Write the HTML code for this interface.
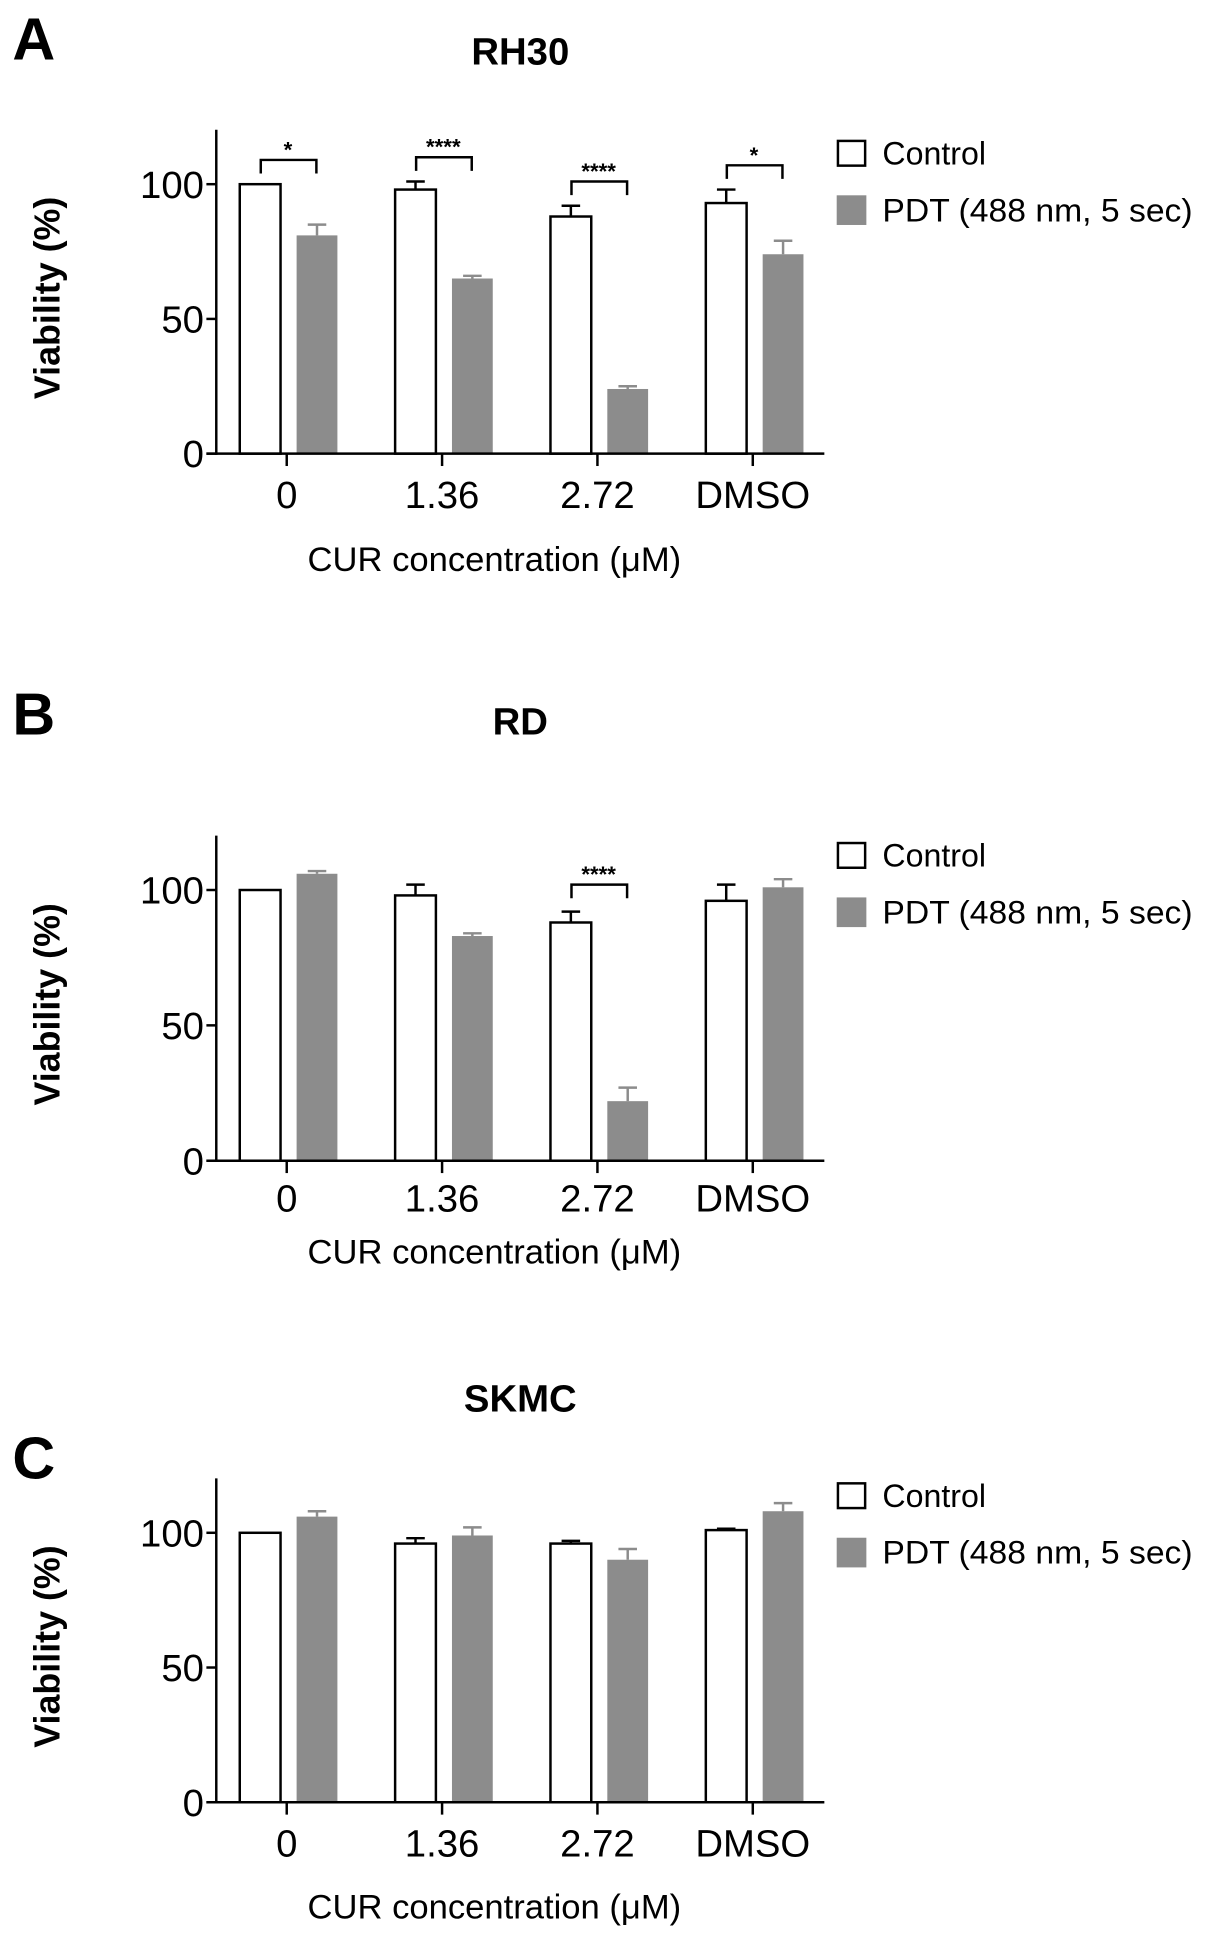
<!DOCTYPE html>
<html><head><meta charset="utf-8"><style>
html,body{margin:0;padding:0;background:#fff;}
svg{display:block;}
text{font-family:"Liberation Sans",Arial,sans-serif;}
</style></head><body>
<svg id="fig" width="1205" height="1937" viewBox="0 0 975 1567" preserveAspectRatio="none" xmlns="http://www.w3.org/2000/svg"></svg>
<script>
const categories = ["0","1.36","2.72","DMSO"];
const rh30Control = [100,98,88,93];
const rh30ControlErr = [0,3,4,5];
const rh30Pdt = [81,65,24,74];
const rh30PdtErr = [4,1,1,5];
const rh30Sig = ["*","****","****","*"];
const rh30SigLevel = [109,110,101,107];
const rdControl = [100,98,88,96];
const rdControlErr = [0,4,4,6];
const rdPdt = [106,83,22,101];
const rdPdtErr = [1,1,5,3];
const rdSig = ["","","****",""];
const rdSigLevel = [0,0,102,0];
const skmcControl = [100,96,96,101];
const skmcControlErr = [0,2,1,0.5];
const skmcPdt = [106,99,90,108];
const skmcPdtErr = [2,3,4,3];
const skmcSig = ["","","",""];
const skmcSigLevel = [0,0,0,0];
const yTicks = [0,50,100];

const NS="http://www.w3.org/2000/svg";
const svg=document.getElementById('fig');
function mk(tag,attrs,parent,txt){const e=document.createElementNS(NS,tag);for(const k in attrs)e.setAttribute(k,attrs[k]);if(txt!==undefined)e.textContent=txt;(parent||svg).appendChild(e);return e;}

function panel(id,letter,title,base,y100,top,tickY,titleY,letterY,headY,legY,ctrl,ctrlErr,pdt,pdtErr,sig,sigLvl){
  const g=mk('g',{});
  
  
  const yS=v=>base-(base-y100)*v/100;
  const xTick=i=>232+i*125.7;
  const axL=175, axR=667;
  let t=mk('text',{x:10,y:letterY,'font-size':48,'font-weight':'bold'},g,letter);
  
  t=mk('text',{x:421,y:headY,'font-size':31,'font-weight':'bold','text-anchor':'middle'},g,title);
  
  categories.forEach((c,i)=>{
    const x=xTick(i);
    let r=mk('rect',{x:x-38,y:yS(ctrl[i]),width:33,height:base-yS(ctrl[i]),fill:'#fff',stroke:'#000','stroke-width':2},g);
    
    if(ctrlErr[i]>0){const ye=yS(ctrl[i]+ctrlErr[i]);
      mk('line',{x1:x-21.5,x2:x-21.5,y1:yS(ctrl[i]),y2:ye,stroke:'#000','stroke-width':2},g);
      mk('line',{x1:x-29,x2:x-14,y1:ye,y2:ye,stroke:'#000','stroke-width':2},g);}
    r=mk('rect',{x:x+8,y:yS(pdt[i]),width:33,height:base-yS(pdt[i]),fill:'#8c8c8c'},g);
    
    if(pdtErr[i]>0){const ye=yS(pdt[i]+pdtErr[i]);
      mk('line',{x1:x+24.5,x2:x+24.5,y1:yS(pdt[i]),y2:ye,stroke:'#8c8c8c','stroke-width':2},g);
      mk('line',{x1:x+17,x2:x+32,y1:ye,y2:ye,stroke:'#8c8c8c','stroke-width':2},g);}
    if(sig[i]){const ys=yS(sigLvl[i]);
      mk('path',{d:`M${x-21} ${ys+11}V${ys}H${x+24}V${ys+11}`,fill:'none',stroke:'#000','stroke-width':2},g);
      t=mk('text',{x:x+1,y:ys-2,'font-size':18,'font-weight':'bold','text-anchor':'middle'},g,sig[i]);
      }
    mk('line',{x1:x,x2:x,y1:base,y2:base+10,stroke:'#000','stroke-width':2},g);
    t=mk('text',{x:x,y:tickY,'font-size':31,'text-anchor':'middle'},g,c);
    
  });
  mk('line',{x1:axL,x2:axL,y1:top,y2:base+1,stroke:'#000','stroke-width':2},g);
  mk('line',{x1:axL-8,x2:axR,y1:base,y2:base,stroke:'#000','stroke-width':2},g);
  yTicks.forEach(v=>{const y=yS(v);
    mk('line',{x1:axL-8,x2:axL,y1:y,y2:y,stroke:'#000','stroke-width':2},g);
    t=mk('text',{x:axL-10,y:y+11,'font-size':31,'text-anchor':'end'},g,String(v));
    });
  const yc=(base+top)/2+5;
  t=mk('text',{x:0,y:0,'font-size':29,'font-weight':'bold','text-anchor':'middle',transform:`translate(48,${yc}) rotate(-90)`},g,'Viability (%)');
  
  t=mk('text',{x:400,y:titleY,'font-size':28,'text-anchor':'middle'},g,'CUR concentration (μM)');
  
  let r=mk('rect',{x:678,y:legY-10,width:22,height:20,fill:'#fff',stroke:'#000','stroke-width':2},g);
  
  t=mk('text',{x:714,y:legY+9,'font-size':26},g,'Control');
  
  r=mk('rect',{x:677,y:legY+34,width:24,height:24,fill:'#8c8c8c'},g);
  
  t=mk('text',{x:714,y:legY+55,'font-size':26,textLength:251,lengthAdjust:'spacingAndGlyphs'},g,'PDT (488 nm, 5 sec)');
  
}
panel('a','A','RH30',367,149,105,411,462,48,52,124,rh30Control,rh30ControlErr,rh30Pdt,rh30PdtErr,rh30Sig,rh30SigLevel);
panel('b','B','RD',939,720,676,980,1022,594,594,692,rdControl,rdControlErr,rdPdt,rdPdtErr,rdSig,rdSigLevel);
panel('c','C','SKMC',1458,1240,1196,1502,1552,1196,1142,1210,skmcControl,skmcControlErr,skmcPdt,skmcPdtErr,skmcSig,skmcSigLevel);
</script>
</body></html>
